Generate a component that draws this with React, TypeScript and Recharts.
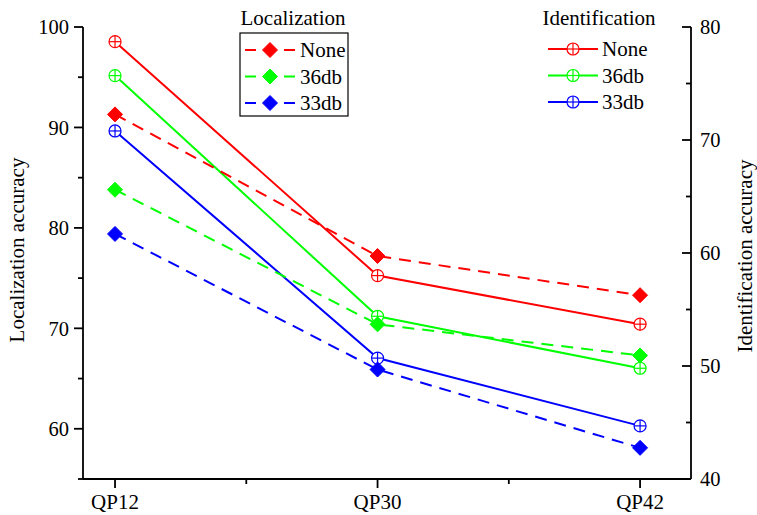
import React from "react";
import { LineChart, Line, XAxis, YAxis } from "recharts";

const categories = ["QP12", "QP30", "QP42"];
const locNone = [91.3, 77.2, 73.3];
const loc36 = [83.8, 70.4, 67.3];
const loc33 = [79.4, 65.9, 58.1];
const idNone = [78.7, 58.0, 53.7];
const id36 = [75.7, 54.4, 49.8];
const id33 = [70.8, 50.7, 44.7];
const xTicks = [0, 0.5, 1, 1.5, 2];
const leftTicks = [55, 60, 65, 70, 75, 80, 85, 90, 95, 100];
const rightTicks = [40, 45, 50, 55, 60, 65, 70, 75, 80];

const data = categories.map((c, i) => ({
  idx: i,
  label: c,
  locNone: locNone[i],
  loc36: loc36[i],
  loc33: loc33[i],
  idNone: idNone[i],
  id36: id36[i],
  id33: id33[i],
}));

const RED = "#FF0000";
const GREEN = "#00FF00";
const BLUE = "#0000FF";
const FONT = "'Liberation Serif', 'Times New Roman', serif";
const AX = 1.8;

const Diamond = ({ cx, cy, color }: any) => (
  <polygon
    points={`${cx},${cy - 7.5} ${cx + 7.5},${cy} ${cx},${cy + 7.5} ${cx - 7.5},${cy}`}
    fill={color}
    stroke={color}
    strokeWidth={1}
  />
);

const CrossCircle = ({ cx, cy, color }: any) => (
  <g>
    <circle cx={cx} cy={cy} r={6} fill="#fff" stroke={color} strokeWidth={1.2} />
    <line x1={cx - 6} y1={cy} x2={cx + 6} y2={cy} stroke={color} strokeWidth={1.2} />
    <line x1={cx} y1={cy - 6} x2={cx} y2={cy + 6} stroke={color} strokeWidth={1.2} />
  </g>
);

const XTick = (props: any) => {
  const { x, y, payload } = props;
  const v = payload.value;
  const major = Math.abs(v - Math.round(v)) < 1e-6;
  if (!major) {
    return <line x1={x} y1={y} x2={x} y2={y + 5} stroke="#000" strokeWidth={AX} />;
  }
  return (
    <g>
      <line x1={x} y1={y} x2={x} y2={y + 9} stroke="#000" strokeWidth={AX} />
      <text x={x} y={y + 30} textAnchor="middle" fontFamily={FONT} fontSize={21} fill="#000">
        {categories[Math.round(v)]}
      </text>
    </g>
  );
};

const LeftTick = (props: any) => {
  const { x, y, payload } = props;
  const v = payload.value;
  const major = v % 10 === 0;
  if (!major) {
    return <line x1={x - 5} y1={y} x2={x} y2={y} stroke="#000" strokeWidth={AX} />;
  }
  return (
    <g>
      <line x1={x - 9} y1={y} x2={x} y2={y} stroke="#000" strokeWidth={AX} />
      <text x={x - 14} y={y} dy="0.35em" textAnchor="end" fontFamily={FONT} fontSize={20.5} fill="#000">
        {v}
      </text>
    </g>
  );
};

const RightTick = (props: any) => {
  const { x, y, payload } = props;
  const v = payload.value;
  const major = v % 10 === 0;
  if (!major) {
    return <line x1={x - 5} y1={y} x2={x} y2={y} stroke="#000" strokeWidth={AX} />;
  }
  return (
    <g>
      <line x1={x - 9} y1={y} x2={x} y2={y} stroke="#000" strokeWidth={AX} />
      <text x={x + 9} y={y} dy="0.35em" textAnchor="start" fontFamily={FONT} fontSize={20.5} fill="#000">
        {v}
      </text>
    </g>
  );
};

const locItems = [
  { name: "None", color: RED },
  { name: "36db", color: GREEN },
  { name: "33db", color: BLUE },
];
const idItems = [
  { name: "None", color: RED },
  { name: "36db", color: GREEN },
  { name: "33db", color: BLUE },
];

const LegendOverlay = () => (
  <svg width={757} height={130} style={{ position: "absolute", left: 0, top: 0, pointerEvents: "none" }}>
    <text x={293} y={18} dy="0.35em" textAnchor="middle" fontFamily={FONT} fontSize={21} fill="#000">
      Localization
    </text>
    <rect x={240} y={33} width={108} height={83} fill="#fff" stroke="#000" strokeWidth={1.2} />
    {locItems.map((it, i) => {
      const yy = 50 + i * 26.5;
      return (
        <g key={"l" + i}>
          <line x1={245} y1={yy} x2={256} y2={yy} stroke={it.color} strokeWidth={2} />
          <line x1={284} y1={yy} x2={295} y2={yy} stroke={it.color} strokeWidth={2} />
          <Diamond cx={270} cy={yy} color={it.color} />
          <text x={300} y={yy} dy="0.35em" fontFamily={FONT} fontSize={21} fill="#000">
            {it.name}
          </text>
        </g>
      );
    })}
    <text x={599} y={18} dy="0.35em" textAnchor="middle" fontFamily={FONT} fontSize={21} fill="#000">
      Identification
    </text>
    {idItems.map((it, i) => {
      const yy = 49 + i * 26.5;
      return (
        <g key={"i" + i}>
          <line x1={548} y1={yy} x2={598} y2={yy} stroke={it.color} strokeWidth={2} />
          <CrossCircle cx={573} cy={yy} color={it.color} />
          <text x={602} y={yy} dy="0.35em" fontFamily={FONT} fontSize={21} fill="#000">
            {it.name}
          </text>
        </g>
      );
    })}
  </svg>
);

export default function App() {
  return (
    <div style={{ position: "absolute", left: 0, top: 0, width: 757, height: 515, background: "#fff" }}>
      <LineChart
        width={757}
        height={515}
        data={data}
        margin={{ top: 27, right: 0, bottom: 0, left: 0 }}
      >
        <XAxis
          dataKey="idx"
          type="number"
          domain={[-0.122, 2.194]}
          ticks={xTicks}
          allowDataOverflow
          height={36}
          tickSize={0}
          tickMargin={0}
          tickLine={false}
          tick={<XTick />}
          axisLine={{ stroke: "#000", strokeWidth: AX }}
          interval={0}
        />
        <YAxis
          yAxisId="left"
          orientation="left"
          domain={[55, 100]}
          ticks={leftTicks}
          allowDataOverflow
          width={83}
          tickSize={0}
          tickMargin={0}
          tickLine={false}
          tick={<LeftTick />}
          axisLine={{ stroke: "#000", strokeWidth: AX }}
          interval={0}
          label={{
            value: "Localization accuracy",
            content: () => (
              <text
                x={17}
                y={250}
                transform={`rotate(-90 17 250)`}
                textAnchor="middle"
                dy="0.35em"
                fontFamily={FONT}
                fontSize={21}
                fill="#000"
              >
                Localization accuracy
              </text>
            ),
          }}
        />
        <YAxis
          yAxisId="right"
          orientation="right"
          domain={[40, 80]}
          ticks={rightTicks}
          allowDataOverflow
          width={66}
          tickSize={0}
          tickMargin={0}
          tickLine={false}
          tick={<RightTick />}
          axisLine={{ stroke: "#000", strokeWidth: AX }}
          interval={0}
          label={{
            value: "Identification accuracy",
            content: () => (
              <text
                x={745}
                y={256}
                transform={`rotate(-90 745 256)`}
                textAnchor="middle"
                dy="0.35em"
                fontFamily={FONT}
                fontSize={21}
                fill="#000"
              >
                Identification accuracy
              </text>
            ),
          }}
        />
        <Line
          yAxisId="right"
          dataKey="idNone"
          stroke={RED}
          strokeWidth={2}
          isAnimationActive={false}
          dot={(p: any) => <CrossCircle key={"a" + p.index} cx={p.cx} cy={p.cy} color={RED} />}
        />
        <Line
          yAxisId="right"
          dataKey="id36"
          stroke={GREEN}
          strokeWidth={2}
          isAnimationActive={false}
          dot={(p: any) => <CrossCircle key={"b" + p.index} cx={p.cx} cy={p.cy} color={GREEN} />}
        />
        <Line
          yAxisId="right"
          dataKey="id33"
          stroke={BLUE}
          strokeWidth={2}
          isAnimationActive={false}
          dot={(p: any) => <CrossCircle key={"c" + p.index} cx={p.cx} cy={p.cy} color={BLUE} />}
        />
        <Line
          yAxisId="left"
          dataKey="locNone"
          stroke={RED}
          strokeWidth={2}
          strokeDasharray="12 8"
          isAnimationActive={false}
          dot={(p: any) => <Diamond key={"d" + p.index} cx={p.cx} cy={p.cy} color={RED} />}
        />
        <Line
          yAxisId="left"
          dataKey="loc36"
          stroke={GREEN}
          strokeWidth={2}
          strokeDasharray="12 8"
          isAnimationActive={false}
          dot={(p: any) => <Diamond key={"e" + p.index} cx={p.cx} cy={p.cy} color={GREEN} />}
        />
        <Line
          yAxisId="left"
          dataKey="loc33"
          stroke={BLUE}
          strokeWidth={2}
          strokeDasharray="12 8"
          isAnimationActive={false}
          dot={(p: any) => <Diamond key={"f" + p.index} cx={p.cx} cy={p.cy} color={BLUE} />}
        />
      </LineChart>
      <LegendOverlay />
    </div>
  );
}
